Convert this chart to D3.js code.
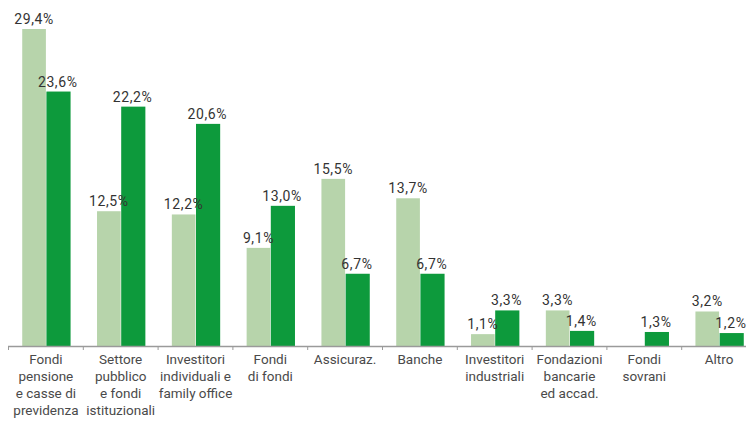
<!DOCTYPE html>
<html>
<head>
<meta charset="utf-8">
<script src="https://cdn.jsdelivr.net/npm/d3@7"></script>
<style>
  html, body { margin: 0; padding: 0; background: #fff; }
  svg text { font-family: "Roboto", "DejaVu Sans Condensed", sans-serif; }
</style>
</head>
<body>
<svg id="chart" width="750" height="425"></svg>
<script>
// Categories (multi-line labels) and the two series of percentages
const categories = [
  ["Fondi", "pensione", "e casse di", "previdenza"],
  ["Settore", "pubblico", "e fondi", "istituzionali"],
  ["Investitori", "individuali e", "family office"],
  ["Fondi", "di fondi"],
  ["Assicuraz."],
  ["Banche"],
  ["Investitori", "industriali"],
  ["Fondazioni", "bancarie", "ed accad."],
  ["Fondi", "sovrani"],
  ["Altro"]
];
const seriesNames = ["a", "b"];
const seriesA = [29.4, 12.5, 12.2, 9.1, 15.5, 13.7, 1.1, 3.3, null, 3.2];
const seriesB = [23.6, 22.2, 20.6, 13.0, 6.7, 6.7, 3.3, 1.4, 1.3, 1.2];

const colors = { a: "#b7d4ab", b: "#0d9a3c" };

const svg = d3.select("#chart");
const baseY = 346;
const topY = 29;
const axisEnd = 746;

const keys = categories.map((c, i) => i);
const x0 = d3.scaleBand().domain(keys).range([8.5, 756.5]).paddingInner(0).paddingOuter(0);
const x1 = d3.scaleBand().domain(seriesNames).range([0, x0.bandwidth()]).paddingInner(0).paddingOuter(0.58);
const y = d3.scaleLinear().domain([0, 29.4]).range([baseY, topY]);

const fmt = v => d3.format(".1f")(v).replace(".", ",") + "%";

// Flat list of bar entries (missing values skipped)
const entries = [];
keys.forEach(i => {
  const vals = { a: seriesA[i], b: seriesB[i] };
  seriesNames.forEach(k => { if (vals[k] != null) entries.push({ i, k, v: vals[k] }); });
});
const bx = e => x0(e.i) + x1(e.k);

// Bars
svg.append("g").selectAll("rect").data(entries).join("rect")
  .attr("x", e => bx(e) + (e.k === "a" ? 0 : 0.5))
  .attr("width", e => x1.bandwidth() + (e.k === "a" ? 0 : 0.5))
  .attr("y", e => y(e.v))
  .attr("height", e => baseY - y(e.v))
  .attr("fill", e => colors[e.k]);

// Value labels, drawn above every bar
svg.append("g").selectAll("text").data(entries).join("text")
  .attr("x", e => bx(e) + x1.bandwidth() / 2)
  .attr("y", e => y(e.v) - 5)
  .attr("text-anchor", "middle")
  .attr("font-size", 14)
  .attr("letter-spacing", 0.6)
  .attr("fill", "#333")
  .text(e => fmt(e.v));

// Baseline axis with small ticks at category boundaries
const axis = svg.append("g");
axis.append("line")
  .attr("x1", 8).attr("x2", axisEnd)
  .attr("y1", baseY + 0.5).attr("y2", baseY + 0.5)
  .attr("stroke", "#9a9a9a").attr("stroke-width", 1.4);
axis.selectAll("line.tick")
  .data(keys)
  .join("line").attr("class", "tick")
  .attr("x1", i => x0(i))
  .attr("x2", i => x0(i))
  .attr("y1", baseY).attr("y2", baseY + 4)
  .attr("stroke", "#9a9a9a");

// Category labels
const labels = svg.append("g").selectAll("text").data(keys).join("text")
  .attr("text-anchor", "middle")
  .attr("font-size", 13.5)
  .attr("fill", "#4a4a4a");
labels.each(function (i) {
  const t = d3.select(this);
  categories[i].forEach((line, j) => {
    t.append("tspan")
      .attr("x", x0(i) + x0.bandwidth() / 2)
      .attr("y", 364 + j * 17)
      .text(line);
  });
});
</script>
</body>
</html>
